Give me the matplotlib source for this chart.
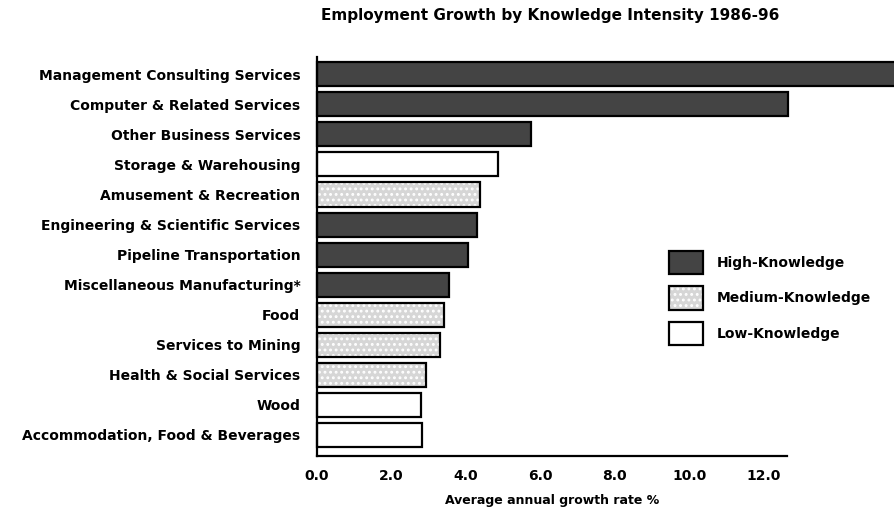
import matplotlib.pyplot as plt
from matplotlib.patches import Patch

industries = [
    "Management Consulting Services",
    "Computer & Related Services",
    "Other Business Services",
    "Storage & Warehousing",
    "Amusement & Recreation",
    "Engineering & Scientific Services",
    "Pipeline Transportation",
    "Miscellaneous Manufacturing*",
    "Food",
    "Services to Mining",
    "Health & Social Services",
    "Wood",
    "Accommodation, Food & Beverages",
]
growth = [16.2, 12.66, 5.75, 4.87, 4.38, 4.30, 4.06, 3.55, 3.41, 3.31, 2.93, 2.80, 2.82]
intensity = ["High", "High", "High", "Low", "Medium", "High", "High", "High",
             "Medium", "Medium", "Medium", "Low", "Low"]
ticks = [0, 2, 4, 6, 8, 10, 12]
tick_labels = ["0.0", "2.0", "4.0", "6.0", "8.0", "10.0", "12.0"]

colors = {"High": "#444444", "Medium": "#d6d6d6", "Low": "white"}
legend_names = {"High": "High-Knowledge", "Medium": "Medium-Knowledge", "Low": "Low-Knowledge"}

plt.rcParams["font.family"] = ["DejaVu Sans"]
plt.rcParams["font.weight"] = "bold"
plt.rcParams["hatch.linewidth"] = 1.3

fig = plt.figure(figsize=(8.94, 5.14), dpi=100)
ax = fig.add_axes([0.3546, 0.1128, 0.5257, 0.776])

for i, (val, lvl) in enumerate(zip(growth, intensity)):
    if lvl == "Medium":
        # grey fill with a white dot pattern, outline drawn separately
        ax.barh(i, val, height=0.8, color=colors[lvl], edgecolor="white",
                hatch="...", linewidth=0, clip_on=False)
        ax.barh(i, val, height=0.8, fill=False, edgecolor="black", linewidth=1.6, clip_on=False)
    else:
        ax.barh(i, val, height=0.8, color=colors[lvl], edgecolor="black",
                linewidth=1.6, clip_on=False)

ax.set_xlim(0, 12.63)
ax.set_ylim(12.7, -0.57)
ax.set_yticks(range(len(industries)))
ax.set_yticklabels(industries, fontsize=10, fontweight="bold")
ax.set_xticks(ticks)
ax.set_xticklabels(tick_labels, fontsize=10, fontweight="bold")
ax.tick_params(axis="x", length=0, pad=9)
ax.tick_params(axis="y", length=0, pad=12)
for s in ["top", "right"]:
    ax.spines[s].set_visible(False)
for s in ["left", "bottom"]:
    ax.spines[s].set_linewidth(1.6)
ax.set_xlabel("Average annual growth rate %", fontsize=9, fontweight="bold", labelpad=8)

handles = []
for lvl in ["High", "Medium", "Low"]:
    if lvl == "Medium":
        h = (Patch(facecolor=colors[lvl], edgecolor="white", hatch="...", linewidth=0),
             Patch(fill=False, edgecolor="black", linewidth=1.6))
    else:
        h = Patch(facecolor=colors[lvl], edgecolor="black", linewidth=1.6)
    handles.append(h)
ax.legend(handles=handles, labels=[legend_names[k] for k in ["High", "Medium", "Low"]],
          loc="center left", bbox_to_anchor=(0.735, 0.396), frameon=False, borderpad=0,
          fontsize=10, handlelength=2.4, handleheight=2.2, labelspacing=0.9,
          handletextpad=1.0)

fig.text(0.615, 0.97, "Employment Growth by Knowledge Intensity 1986-96",
         ha="center", va="center", fontsize=11, fontweight="bold")

fig.savefig("out.png", dpi=100)
